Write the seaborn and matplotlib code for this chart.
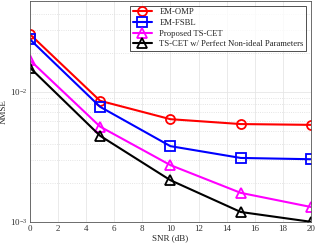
import matplotlib
matplotlib.use("Agg")
import matplotlib.pyplot as plt
import pandas as pd
import seaborn as sns
import numpy as np
from matplotlib.ticker import LogLocator, NullFormatter

# SNR points
snr = [0, 5, 10, 15, 20]

# NMSE values
em_omp = [0.0278, 0.00853, 0.00616, 0.00565, 0.00557]
em_fsbl = [0.0254, 0.00767, 0.00382, 0.00310, 0.00303]
ts_cet = [0.01754, 0.00540, 0.00273, 0.00167, 0.00130]
ts_cet_perfect = [0.01538, 0.00459, 0.00209, 0.00119, 0.00100]

labels = ["EM-OMP", "EM-FSBL", "Proposed TS-CET", "TS-CET w/ Perfect Non-ideal Parameters"]
series = [em_omp, em_fsbl, ts_cet, ts_cet_perfect]
colors = ["#ff0000", "#0000ff", "#ff00ff", "#000000"]
markers = ["o", "s", "^", "^"]

sns.set_style("white")
plt.rcParams["font.family"] = ["Liberation Serif", "DejaVu Serif"]
plt.rcParams["mathtext.fontset"] = "stix"

fig = plt.figure(figsize=(3.17, 2.47), dpi=100)
ax = fig.add_axes([0.094, 0.102, 0.887, 0.894])

for lab, vals, c, m in zip(labels, series, colors, markers):
    df = pd.DataFrame({"SNR (dB)": snr, "NMSE": vals})
    sns.lineplot(
        data=df, x="SNR (dB)", y="NMSE", ax=ax, label=lab, color=c,
        marker=m, markersize=6.5, markerfacecolor="none", markeredgecolor=c,
        markeredgewidth=1.3, linewidth=1.5,
    )

ax.set_yscale("log")
ax.set_xlim(0, 20)
ax.set_ylim(1e-3, 0.05)
ax.set_xticks(np.arange(0, 21, 2))
ax.yaxis.set_major_locator(LogLocator(base=10))
ax.yaxis.set_minor_locator(LogLocator(base=10, subs=np.arange(2, 10)))
ax.yaxis.set_minor_formatter(NullFormatter())

ax.grid(True, which="major", color="#e6e6e6", linewidth=0.6)
ax.grid(True, which="minor", axis="y", color="#dcdcdc", linestyle=":", linewidth=0.6)
ax.set_axisbelow(True)

ax.tick_params(labelsize=6.5, colors="#333333", length=2, width=0.5, direction="in", pad=2)
ax.tick_params(which="minor", length=1, width=0.4, direction="in")
ax.set_xlabel("SNR (dB)", fontsize=6.5, labelpad=1)
ax.set_ylabel("NMSE", fontsize=6.5, labelpad=1)
for s in ax.spines.values():
    s.set_color("#555555")
    s.set_linewidth(0.6)

leg = ax.legend(loc="upper right", fontsize=6.2, frameon=True, fancybox=False,
                handlelength=2.3, borderpad=0.3, labelspacing=0.3, borderaxespad=0.55)
leg.get_frame().set_edgecolor("black")
leg.get_frame().set_linewidth(0.6)

plt.savefig("out.png", dpi=100)
plt.close()
